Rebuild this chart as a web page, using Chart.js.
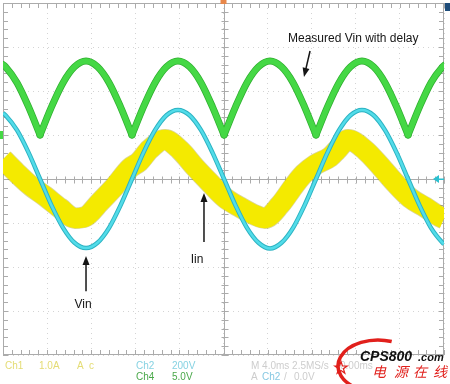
<!DOCTYPE html>
<html lang="en">
<head>
<meta charset="UTF-8">
<title>Vin / Iin scope capture</title>
<script src="https://cdn.jsdelivr.net/npm/chart.js@4.4.1/dist/chart.umd.min.js"></script>
<style>
  html, body { margin: 0; padding: 0; background: #fff; }
  #wrap { width: 450px; height: 384px; }
</style>
</head>
<body>
<div id="wrap"><canvas id="scope" width="450" height="384"></canvas></div>
<script>
// time base 4 ms/div, 10 divisions -> 0..40 ms ; vertical in divisions (-4..4)
const tSine = [0, 0.23, 1.27, 2.32, 3.36, 4.40, 5.45, 6.49, 7.53, 8.57, 9.62, 10.66, 11.70, 12.74, 13.79, 14.83,
  15.87, 16.92, 17.96, 19.00, 20.05, 21.09, 22.13, 23.18, 24.22, 25.26, 26.31, 27.35, 28.39, 29.43, 30.48,
  31.52, 32.56, 33.61, 34.65, 35.70, 36.74, 37.78, 38.82, 39.87, 40];

// Ch4 - measured Vin with delay (rectified)
const ch4Delay = [2.60, 2.55, 2.19, 1.64, 1.00, 1.64, 2.19, 2.55, 2.68, 2.55, 2.19, 1.64, 1.00, 1.64, 2.19, 2.55,
  2.68, 2.55, 2.19, 1.64, 1.00, 1.64, 2.19, 2.55, 2.68, 2.55, 2.19, 1.64, 1.00, 1.64, 2.19,
  2.55, 2.68, 2.55, 2.19, 1.64, 1.00, 1.64, 2.19, 2.55, 2.58];

// Ch2 - Vin
const ch2Vin = [1.50, 1.45, 1.11, 0.60, 0, -0.60, -1.11, -1.45, -1.57, -1.45, -1.11, -0.60, 0, 0.60, 1.11, 1.45,
  1.57, 1.45, 1.11, 0.60, 0, -0.60, -1.11, -1.45, -1.58, -1.45, -1.11, -0.60, 0, 0.60, 1.11,
  1.45, 1.57, 1.45, 1.11, 0.60, 0, -0.60, -1.11, -1.45, -1.48];

// Ch1 - Iin
const tIin = [0, 1.20, 2.45, 3.81, 5.17, 6.53, 7.44, 8.80, 10.16, 11.52, 12.34, 13.33, 14.69, 16.05, 17.41, 18.78,
  20.14, 21.50, 22.86, 23.76, 25.12, 26.49, 27.30, 28.30, 29.66, 30.30, 31.29, 32.83, 34.20, 35.56, 36.92,
  38.28, 39.64, 40];
const ch1Iin = [0.45, 0.15, -0.14, -0.39, -0.66, -0.89, -0.86, -0.52, -0.16, 0.25, 0.39, 0.68, 0.89, 0.66, 0.27, -0.09,
  -0.43, -0.64, -0.82, -0.89, -0.59, -0.12, 0.12, 0.32, 0.50, 0.66, 0.89, 0.66, 0.30, -0.09, -0.43,
  -0.64, -0.86, -0.90];

const xRange = [0, 40], xStep = 4;
const yRange = [-4, 4], yStep = 1;

function pts(t, v) { return t.map((x, i) => ({ x: x, y: v[i] })); }

// the rectified trace has sharp cusps, so draw each arch on its own
function arches(t, v) {
  const out = [];
  let start = 0;
  for (let i = 1; i < v.length - 1; i++) {
    if (v[i] < v[i - 1] && v[i] < v[i + 1]) {
      out.push(pts(t.slice(start, i + 1), v.slice(start, i + 1)));
      start = i;
    }
  }
  out.push(pts(t.slice(start), v.slice(start)));
  return out;
}

function trace(data, color, width, order, cap) {
  return {
    data: data, borderColor: color, borderWidth: width, order: order,
    pointRadius: 0, fill: false, clip: 0,
    cubicInterpolationMode: 'monotone', borderJoinStyle: 'round', borderCapStyle: cap || 'butt'
  };
}

const datasets = [];
datasets.push(trace(pts(tSine, ch2Vin), '#52dce9', 2.5, 0));
datasets.push(trace(pts(tSine, ch2Vin), '#2cb2c2', 4.5, 1));
arches(tSine, ch4Delay).forEach(a => {
  datasets.push(trace(a, '#45d845', 5.5, 2, 'round'));
  datasets.push(trace(a, '#2fae2f', 7, 3, 'round'));
});
datasets.push(trace(pts(tIin, ch1Iin), '#f4ea00', 20, 4));
datasets.push(trace(pts(tIin, ch1Iin), 'rgba(160,150,0,0.4)', 21.5, 5));

// arrows + labels placed in data units (ms, div)
const notes = [
  { text: 'Measured Vin with delay', x: 25.85, y: 3.18, align: 'left', from: [27.85, 2.91], to: [27.30, 2.32] },
  { text: 'Vin', x: 7.26, y: -2.86, align: 'center', from: [7.53, -2.55], to: [7.53, -1.75] },
  { text: 'Iin', x: 17.60, y: -1.84, align: 'center', from: [18.23, -1.43], to: [18.23, -0.32] }
];

function arrow(ctx, x1, y1, x2, y2) {
  const ang = Math.atan2(y2 - y1, x2 - x1);
  ctx.beginPath();
  ctx.moveTo(x1, y1);
  ctx.lineTo(x2 - 6 * Math.cos(ang), y2 - 6 * Math.sin(ang));
  ctx.stroke();
  ctx.beginPath();
  ctx.moveTo(x2, y2);
  ctx.lineTo(x2 - 9 * Math.cos(ang) + 3.5 * Math.sin(ang), y2 - 9 * Math.sin(ang) - 3.5 * Math.cos(ang));
  ctx.lineTo(x2 - 9 * Math.cos(ang) - 3.5 * Math.sin(ang), y2 - 9 * Math.sin(ang) + 3.5 * Math.cos(ang));
  ctx.closePath();
  ctx.fill();
}

const scopeFrame = {
  id: 'scopeFrame',
  beforeDatasetsDraw(chart) {
    const { ctx, chartArea: a, scales: { x, y } } = chart;
    const cx = Math.round(x.getPixelForValue(20)) + 0.5;
    const cy = Math.round(y.getPixelForValue(0)) + 0.5;
    ctx.save();
    ctx.strokeStyle = '#ababab';
    ctx.lineWidth = 1;
    ctx.beginPath();
    ctx.moveTo(a.left, cy); ctx.lineTo(a.right, cy);
    ctx.moveTo(cx, a.top); ctx.lineTo(cx, a.bottom);
    // 5 minor ticks per division on the edges and the centre axes
    for (let i = 0; i <= 50; i++) {
      const px = Math.round(x.getPixelForValue(i * 0.8)) + 0.5;
      ctx.moveTo(px, a.top); ctx.lineTo(px, a.top + 5);
      ctx.moveTo(px, a.bottom); ctx.lineTo(px, a.bottom - 5);
      ctx.moveTo(px, cy - 3); ctx.lineTo(px, cy + 4);
    }
    for (let i = 0; i <= 40; i++) {
      const py = Math.round(y.getPixelForValue(-4 + i * 0.2)) + 0.5;
      ctx.moveTo(a.left, py); ctx.lineTo(a.left + 5, py);
      ctx.moveTo(a.right, py); ctx.lineTo(a.right - 5, py);
      ctx.moveTo(cx - 3, py); ctx.lineTo(cx + 4, py);
    }
    ctx.stroke();
    ctx.strokeRect(a.left + 0.5, a.top + 0.5, a.width - 1, a.height - 1);
    ctx.restore();
  },
  afterDraw(chart) {
    const { ctx, chartArea: a, scales: { x, y } } = chart;
    ctx.save();
    // channel / trigger markers
    ctx.fillStyle = '#2bc0d0';
    const ty = y.getPixelForValue(0);
    ctx.beginPath();
    ctx.moveTo(a.right - 11, ty); ctx.lineTo(a.right - 5, ty - 4); ctx.lineTo(a.right - 5, ty + 4); ctx.closePath();
    ctx.fill();
    ctx.fillRect(a.right - 6, ty - 0.5, 6, 1.5);
    ctx.fillStyle = '#e8874a';
    ctx.fillRect(x.getPixelForValue(20) - 3, 0, 6, 4);
    ctx.fillStyle = '#1f4d7a';
    ctx.fillRect(a.right + 1, a.top, 5, 8);
    ctx.fillStyle = '#45d845';
    ctx.fillRect(0, y.getPixelForValue(1) - 4, 3, 8);

    // annotations
    ctx.fillStyle = '#151515';
    ctx.strokeStyle = '#151515';
    ctx.lineWidth = 1.5;
    ctx.font = '12px "Liberation Sans", Arial, sans-serif';
    ctx.textBaseline = 'middle';
    notes.forEach(n => {
      ctx.textAlign = n.align;
      ctx.fillText(n.text, x.getPixelForValue(n.x), y.getPixelForValue(n.y));
      arrow(ctx, x.getPixelForValue(n.from[0]), y.getPixelForValue(n.from[1]),
        x.getPixelForValue(n.to[0]), y.getPixelForValue(n.to[1]));
    });

    // readout strip
    ctx.textAlign = 'left';
    ctx.font = '10px "Liberation Sans", Arial, sans-serif';
    const row1 = 366, row2 = 377;
    const put = (s, px, py, c) => { ctx.fillStyle = c; ctx.fillText(s, px, py); };
    put('Ch1', 5, row1, '#e4dc74');
    put('1.0A', 39, row1, '#e4dc74');
    put('A', 77, row1, '#e4dc74');
    put('c', 89, row1, '#e4dc74');
    put('Ch2', 136, row1, '#86d2e2');
    put('200V', 172, row1, '#86d2e2');
    put('Ch4', 136, row2, '#4aa84a');
    put('5.0V', 172, row2, '#4aa84a');
    put('M 4.0ms 2.5MS/s', 251, row1, '#cdcdcd');
    put('0.00ms', 340, row1, '#cdcdcd');
    put('A', 251, row2, '#cdcdcd');
    put('Ch2', 262, row2, '#86c8e2');
    put('/', 284, row2, '#cdcdcd');
    put('0.0V', 294, row2, '#cdcdcd');

    // watermark
    ctx.strokeStyle = '#e1201c';
    ctx.lineWidth = 3.5;
    ctx.beginPath();
    ctx.ellipse(378, 366, 40, 26, 0, -70 * Math.PI / 180, 115 * Math.PI / 180, true);
    ctx.stroke();
    ctx.lineWidth = 1.2;
    ctx.beginPath();
    for (let k = 0; k < 10; k++) {
      const r = k % 2 ? 2.5 : 6.5, ang = -Math.PI / 2 + k * Math.PI / 5;
      const sx = 341 + r * Math.cos(ang), sy = 368 + r * Math.sin(ang);
      if (k) ctx.lineTo(sx, sy); else ctx.moveTo(sx, sy);
    }
    ctx.closePath();
    ctx.stroke();
    ctx.fillStyle = '#111';
    ctx.font = 'italic bold 14px "Liberation Sans", Arial, sans-serif';
    ctx.fillText('CPS800', 360, 357);
    ctx.font = 'italic bold 11px "Liberation Sans", Arial, sans-serif';
    ctx.fillText('.com', 418, 358);
    ctx.fillStyle = '#e1201c';
    ctx.font = 'italic 14px "Noto Sans CJK SC", sans-serif';
    ctx.textAlign = 'center';
    ['电', '源', '在', '线'].forEach((c, i) => ctx.fillText(c, [379, 401, 420, 440][i], 372));
    ctx.restore();
  }
};

new Chart(document.getElementById('scope'), {
  type: 'line',
  data: { datasets: datasets },
  options: {
    responsive: false,
    animation: false,
    devicePixelRatio: 1,
    layout: { padding: { left: 3, top: 3, right: 6, bottom: 29 } },
    plugins: { legend: { display: false }, tooltip: { enabled: false } },
    scales: {
      x: {
        type: 'linear', min: xRange[0], max: xRange[1],
        ticks: { display: false, stepSize: xStep },
        grid: { color: '#d4d4d4', drawTicks: false },
        border: { display: false, dash: [1, 4] }
      },
      y: {
        type: 'linear', min: yRange[0], max: yRange[1],
        ticks: { display: false, stepSize: yStep },
        grid: { color: '#d4d4d4', drawTicks: false },
        border: { display: false, dash: [1, 4] }
      }
    }
  },
  plugins: [scopeFrame]
});
</script>
</body>
</html>
